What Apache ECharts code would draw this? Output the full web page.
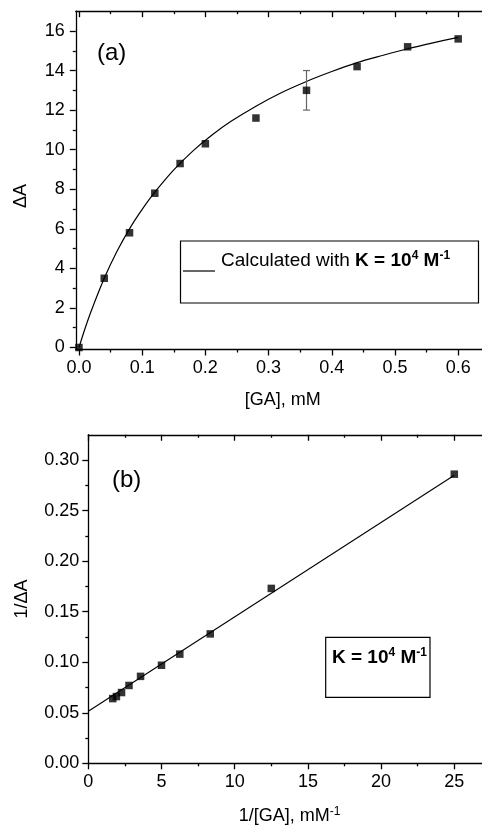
<!DOCTYPE html>
<html>
<head>
<meta charset="utf-8">
<script src="https://cdn.jsdelivr.net/npm/echarts@6/dist/echarts.min.js"></script>
<style>
  html, body { margin: 0; padding: 0; background: #fff; }
  #chart { width: 482px; height: 825px; }
</style>
</head>
<body>
<div id="chart"></div>
<script>
// (a) titration data: [GA] in mM vs absorbance change
const gaConc  = [0, 0.04, 0.08, 0.12, 0.16, 0.20, 0.28, 0.36, 0.44, 0.52, 0.60];
const deltaA  = [0, 3.5, 5.8, 7.8, 9.3, 10.3, 11.6, 13.0, 14.2, 15.2, 15.6];
// error bar on the 0.36 mM point
const errX    = [0.36];
const errLow  = [12.0];
const errHigh = [14.0];
// calculated curve
const curveX  = [0, 0.01, 0.02, 0.04, 0.06, 0.08, 0.10, 0.12, 0.15, 0.18, 0.21, 0.24, 0.28, 0.32, 0.36, 0.40, 0.44, 0.48, 0.52, 0.56, 0.60];
const curveY  = [0, 1.0, 1.9, 3.5, 4.85, 6.0, 6.98, 7.85, 8.98, 9.93, 10.73, 11.42, 12.2, 12.88, 13.45, 13.95, 14.4, 14.76, 15.1, 15.4, 15.68];

// (b) double reciprocal plot
const invConc = [1.67, 1.92, 2.27, 2.78, 3.57, 5.0, 6.25, 8.33, 12.5, 25];
const invA    = [0.064, 0.066, 0.070, 0.077, 0.086, 0.097, 0.108, 0.128, 0.173, 0.286];
const fitX    = [0, 25];
const fitY    = [0.0515, 0.285];

// ticks
const xTicksA  = [0, 0.1, 0.2, 0.3, 0.4, 0.5, 0.6];
const xMinorA  = [0.05, 0.15, 0.25, 0.35, 0.45, 0.55, 0.65];
const yTicksA  = [0, 2, 4, 6, 8, 10, 12, 14, 16];
const yMinorA  = [1, 3, 5, 7, 9, 11, 13, 15];
const xTicksB  = [0, 5, 10, 15, 20, 25];
const xMinorB  = [2.5, 7.5, 12.5, 17.5, 22.5];
const yTicksB  = [0, 0.05, 0.10, 0.15, 0.20, 0.25, 0.30];
const yMinorB  = [0.025, 0.075, 0.125, 0.175, 0.225, 0.275];

const FONT = "'Liberation Sans', Arial, sans-serif";
const FS = 18;
const black = '#000';
const axisLineStyle = { color: black, width: 1.3 };

const chart = echarts.init(document.getElementById('chart'));

function axisSet(gridIndex, dim, min, max, major, minor, fmt, labelMargin, withMirror) {
    const side = dim === 'x' ? 'bottom' : 'left';
    const mirror = dim === 'x' ? 'top' : 'right';
    const base = { gridIndex, type: 'value', min, max, splitLine: { show: false } };
    const list = [
        Object.assign({}, base, {
            position: side,
            axisLine: { show: true, onZero: false, lineStyle: axisLineStyle },
            axisTick: { show: true, customValues: major, length: 6, lineStyle: axisLineStyle },
            axisLabel: { show: true, customValues: major, formatter: fmt, color: black,
                fontFamily: FONT, fontSize: FS, margin: labelMargin,
                showMinLabel: true, showMaxLabel: true },
        }),
        Object.assign({}, base, {
            position: side,
            axisLine: { show: false, onZero: false },
            axisTick: { show: true, customValues: minor, length: 3, lineStyle: axisLineStyle },
            axisLabel: { show: false },
        }),
    ];
    if (withMirror) {
        list.push(
            Object.assign({}, base, {
                position: mirror,
                axisLine: { show: true, onZero: false, lineStyle: axisLineStyle },
                axisTick: { show: true, inside: true, customValues: major, length: 6, lineStyle: axisLineStyle },
                axisLabel: { show: false },
            }),
            Object.assign({}, base, {
                position: mirror,
                axisLine: { show: false, onZero: false },
                axisTick: { show: true, inside: true, customValues: minor, length: 3, lineStyle: axisLineStyle },
                axisLabel: { show: false },
            })
        );
    }
    return list;
}

const xAxesA = axisSet(0, 'x', -0.005, 0.65, xTicksA, xMinorA, v => v.toFixed(1), 10, true);
const yAxesA = axisSet(0, 'y', -0.1, 17, yTicksA, yMinorA, v => String(v), 11, false);
const xAxesB = axisSet(1, 'x', 0, 27.5, xTicksB, xMinorB, v => String(v), 10, true);
const yAxesB = axisSet(1, 'y', 0, 0.325, yTicksB, yMinorB, v => v.toFixed(2), 9, false);

xAxesA[0].name = '[GA], mM';
xAxesA[0].nameLocation = 'middle';
xAxesA[0].nameGap = 42;
xAxesA[0].nameTextStyle = { color: black, fontFamily: FONT, fontSize: FS };

xAxesB[0].name = '{n|1/[GA], mM}{s|-1}';
xAxesB[0].nameLocation = 'middle';
xAxesB[0].nameGap = 42;
xAxesB[0].nameTextStyle = {
    color: black, fontFamily: FONT,
    rich: {
        n: { fontSize: FS, lineHeight: 21, fontFamily: FONT, color: black },
        s: { fontSize: 12, lineHeight: 21, verticalAlign: 'top', fontFamily: FONT, color: black },
    },
};

yAxesB[0].name = '1/ΔA';
yAxesB[0].nameLocation = 'middle';
yAxesB[0].nameGap = 57;
yAxesB[0].nameTextStyle = { color: black, fontFamily: FONT, fontSize: FS };

const xAxes = xAxesA.concat(xAxesB);   // 0..3 top chart, 4..7 bottom chart
const yAxes = yAxesA.concat(yAxesB);   // 0..1 top chart, 2..3 bottom chart

const legendRich = {
    r:  { fontSize: 19, lineHeight: 23, fontFamily: FONT, color: black },
    b:  { fontSize: 19, lineHeight: 23, fontFamily: FONT, fontWeight: 'bold', color: black },
    bs: { fontSize: 12, lineHeight: 23, fontFamily: FONT, fontWeight: 'bold', color: black, verticalAlign: 'top' },
};

chart.setOption({
    backgroundColor: '#fff',
    animation: false,
    grid: [
        { left: 75.8, top: 11.2, width: 414, height: 338.3, outerBoundsMode: 'none', containLabel: false },
        { left: 88.3, top: 434.75, width: 402.6, height: 328.55, outerBoundsMode: 'none', containLabel: false },
    ],
    xAxis: xAxes,
    yAxis: yAxes,
    series: [
        {
            type: 'line',
            xAxisIndex: 0, yAxisIndex: 0,
            data: curveX.map((x, i) => [x, curveY[i]]),
            smooth: 0.3,
            showSymbol: false,
            lineStyle: { color: black, width: 1.2 },
            z: 2,
        },
        {
            type: 'custom',
            xAxisIndex: 0, yAxisIndex: 0,
            data: errX.map((x, i) => [x, errLow[i], errHigh[i]]),
            renderItem: (params, api) => {
                const lo = api.coord([api.value(0), api.value(1)]);
                const hi = api.coord([api.value(0), api.value(2)]);
                const w = 3.5;
                const st = { stroke: '#666', lineWidth: 1.2 };
                return {
                    type: 'group',
                    children: [
                        { type: 'line', shape: { x1: lo[0], y1: lo[1], x2: hi[0], y2: hi[1] }, style: st },
                        { type: 'line', shape: { x1: lo[0] - w, y1: lo[1], x2: lo[0] + w, y2: lo[1] }, style: st },
                        { type: 'line', shape: { x1: hi[0] - w, y1: hi[1], x2: hi[0] + w, y2: hi[1] }, style: st },
                    ],
                };
            },
            z: 3,
        },
        {
            type: 'scatter',
            xAxisIndex: 0, yAxisIndex: 0,
            data: gaConc.map((x, i) => [x, deltaA[i]]),
            symbol: 'rect',
            symbolSize: 7.5,
            itemStyle: { color: black },
            z: 4,
        },
        {
            type: 'line',
            xAxisIndex: 4, yAxisIndex: 2,
            data: fitX.map((x, i) => [x, fitY[i]]),
            showSymbol: false,
            lineStyle: { color: black, width: 1.1 },
            z: 2,
        },
        {
            type: 'scatter',
            xAxisIndex: 4, yAxisIndex: 2,
            data: invConc.map((x, i) => [x, invA[i]]),
            symbol: 'rect',
            symbolSize: 7.5,
            itemStyle: { color: black },
            z: 4,
        },
    ],
    graphic: [
        { type: 'text', x: 21, y: 196, rotation: Math.PI / 2,
          style: { text: 'ΔA', fontFamily: FONT, fontSize: FS, fill: black, align: 'center', verticalAlign: 'middle' } },
        { type: 'text', x: 97, y: 53,
          style: { text: '(a)', fontFamily: FONT, fontSize: 24, fill: black, align: 'left', verticalAlign: 'middle' } },
        { type: 'text', x: 112, y: 480,
          style: { text: '(b)', fontFamily: FONT, fontSize: 24, fill: black, align: 'left', verticalAlign: 'middle' } },
        // legend box (a)
        { type: 'rect', shape: { x: 180.5, y: 241, width: 298, height: 62 },
          style: { fill: 'none', stroke: black, lineWidth: 1.2 } },
        { type: 'line', shape: { x1: 183, y1: 271, x2: 215, y2: 271 },
          style: { stroke: black, lineWidth: 1.2 } },
        { type: 'text', x: 221, y: 261,
          style: { text: '{r|Calculated with }{b|K = 10}{bs|4}{b| M}{bs|-1}', rich: legendRich,
                   fill: black, align: 'left', verticalAlign: 'middle' } },
        // legend box (b)
        { type: 'rect', shape: { x: 325.7, y: 637.3, width: 104.3, height: 60 },
          style: { fill: 'none', stroke: black, lineWidth: 1.2 } },
        { type: 'text', x: 332, y: 658,
          style: { text: '{b|K = 10}{bs|4}{b| M}{bs|-1}', rich: legendRich,
                   fill: black, align: 'left', verticalAlign: 'middle' } },
    ],
});
</script>
</body>
</html>
